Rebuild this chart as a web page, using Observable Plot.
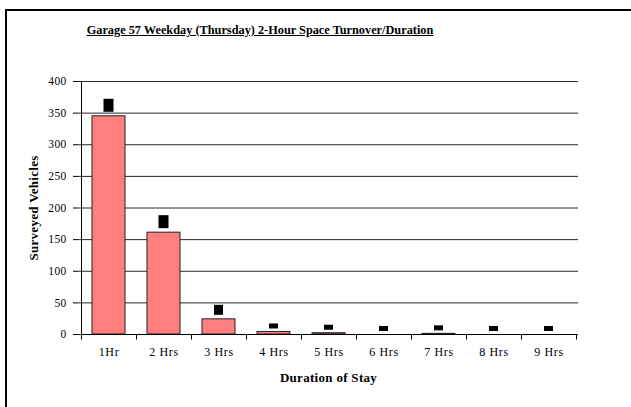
<!DOCTYPE html>
<html>
<head>
<meta charset="utf-8">
<script src="https://cdn.jsdelivr.net/npm/d3@7"></script>
<script src="https://cdn.jsdelivr.net/npm/@observablehq/plot@0.6"></script>
<style>
  html, body { margin: 0; padding: 0; background: #fff; }
  #wrap { position: relative; width: 631px; height: 407px; overflow: hidden; font-family: "Liberation Serif", serif; }
  #frame { position: absolute; left: 5px; top: 9px; width: 640px; height: 420px; border-left: 2px solid #000; border-top: 2px solid #000; }
  #title { position: absolute; left: 0; width: 520px; top: 23px; text-align: center; font-family: "Liberation Serif", serif; font-weight: bold; font-size: 12.3px; text-decoration: underline; color: #000; }
  #chart { position: absolute; left: 0; top: 0; }
  #chart [aria-label="y-axis label"] text, #chart [aria-label="x-axis label"] text { font-weight: bold; font-size: 13px; letter-spacing: 0.3px; }
  #chart [aria-label="x-axis tick label"] text { letter-spacing: 0.6px; }
  #chart [aria-label="y-axis tick label"] text { letter-spacing: 0.3px; }
</style>
</head>
<body>
<div id="wrap">
  <div id="frame"></div>
  <div id="chart"></div>
  <div id="title">Garage 57 Weekday (Thursday) 2-Hour Space Turnover/Duration</div>
</div>
<script>
const categories = ["1Hr", "2 Hrs", "3 Hrs", "4 Hrs", "5 Hrs", "6 Hrs", "7 Hrs", "8 Hrs", "9 Hrs"];
const vehicles = [345, 161, 24, 4, 2, 0, 1, 0, 0];
const yTicks = [0, 50, 100, 150, 200, 250, 300, 350, 400];

const data = categories.map((c, i) => ({duration: c, count: vehicles[i]}));

const axisLines = (index, scales) => {
  const g = d3.create("svg:g").attr("stroke", "#000").attr("stroke-width", 1).attr("fill", "none");
  const step = scales.x(categories[1]) - scales.x(categories[0]);
  const y0 = Math.round(scales.y(0)) + 0.5;
  const xs = categories.map(c => scales.x(c)).concat([scales.x(categories[categories.length - 1]) + step]);
  for (const x of xs) {
    g.append("line").attr("x1", Math.round(x) + 0.5).attr("x2", Math.round(x) + 0.5).attr("y1", y0).attr("y2", y0 + 5);
  }
  const xl = Math.round(xs[0]) + 0.5;
  g.append("line").attr("x1", xl).attr("x2", xl).attr("y1", scales.y(400)).attr("y2", y0);
  g.append("line").attr("x1", xl).attr("x2", Math.round(xs[xs.length - 1]) + 0.5).attr("y1", y0).attr("y2", y0);
  return g.node();
};

const chart = Plot.plot({
  width: 631,
  height: 407,
  marginLeft: 78,
  marginRight: 53,
  marginTop: 81,
  marginBottom: 73,
  style: {fontSize: "11.5px", fontFamily: "'Liberation Serif', serif", color: "#000", background: "transparent"},
  x: {domain: categories, padding: 0, label: null},
  y: {domain: [0, 400], label: null},
  marks: [
    Plot.gridY(yTicks, {stroke: "#000", strokeOpacity: 0.85}),
    Plot.barY(data.filter(d => d.count > 0), {x: "duration", y: "count", fill: "#FF7F7F", stroke: "#222", strokeWidth: 1, insetLeft: 11, insetRight: 11}),
    Plot.rect(data.filter(d => d.count >= 100), {x: "duration", y1: "count", y2: "count", fill: "#000", insetLeft: 22.5, insetRight: 22.5, insetTop: -17, insetBottom: 4}),
    Plot.rect(data.filter(d => d.count >= 10 && d.count < 100), {x: "duration", y1: "count", y2: "count", fill: "#000", insetLeft: 23, insetRight: 23, insetTop: -14, insetBottom: 4}),
    Plot.rect(data.filter(d => d.count < 10), {x: "duration", y1: "count", y2: "count", fill: "#000", insetLeft: 23, insetRight: 23, insetTop: -8, insetBottom: 3}),
    Plot.axisY({ticks: yTicks, tickSize: 5, tickPadding: 7, label: "Surveyed Vehicles", labelAnchor: "center", labelArrow: "none", labelOffset: 50}),
    Plot.axisX({tickSize: 0, tickPadding: 13, fontSize: 12, label: "Duration of Stay", labelAnchor: "center", labelArrow: "none", labelOffset: 47}),
    axisLines
  ]
});
document.getElementById("chart").appendChild(chart);
</script>
</body>
</html>
